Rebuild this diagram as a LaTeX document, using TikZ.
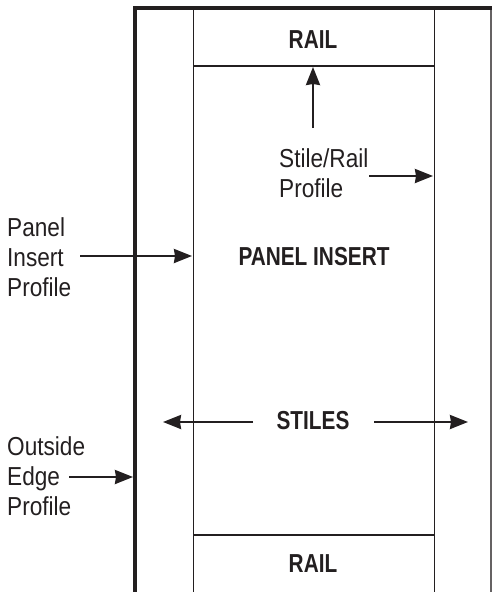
\documentclass[tikz,border=0pt]{standalone}
\usepackage{fontspec}
\setmainfont{Liberation Sans}
\newfontfamily\lblfont[FakeStretch=0.87]{Liberation Sans}
\newfontfamily\boldlbl[FakeStretch=0.8]{Liberation Sans Bold}
\usetikzlibrary{arrows.meta}
\definecolor{ink}{HTML}{231F20}
\begin{document}
\begin{tikzpicture}[x=1pt,y=-1pt,
  frame/.style={draw=ink,line width=3.2pt},
  thin/.style={draw=ink,line width=1.5pt},
  arr/.style={draw=ink,line width=2.4pt,-{Stealth[length=18pt,width=14pt,inset=1pt]}},
  lbl/.style={font=\fontsize{26}{30}\lblfont,text=ink,align=left,inner sep=0pt},
  blbl/.style={font=\fontsize{26}{30}\boldlbl,text=ink,inner sep=0pt}]
\useasboundingbox (0,0) rectangle (492,592);
% outer frame
\coordinate (otl) at (135,8);
\coordinate (otr) at (492,8);
\coordinate (obl) at (135,592);
\draw[frame] (obl) -- (otl) -- (otr);
\coordinate (rtop) at (491,9.5);
\coordinate (rbot) at (491,592);
\draw[thin,draw=ink!70] (rtop) -- (rbot);
% inner stiles / rails
\coordinate (itl) at (193.5,9.5);
\coordinate (ibl) at (193.5,592);
\coordinate (itr) at (434.5,9.5);
\coordinate (ibr) at (434.5,592);
\draw[thin] (itl) -- (ibl);
\draw[thin] (itr) -- (ibr);
\coordinate (r1l) at (193.5,66);
\coordinate (r1r) at (434.5,66);
\coordinate (r2l) at (193.5,535);
\coordinate (r2r) at (434.5,535);
\draw[thin] (r1l) -- (r1r);
\draw[thin] (r2l) -- (r2r);
% labels
\node[blbl] (rail1) at (313,40) {RAIL};
\node[blbl] (rail2) at (313,564) {RAIL};
\node[blbl] (panel) at (314,257) {PANEL INSERT};
\node[blbl] (stiles) at (313,421) {STILES};
\node[lbl,anchor=west] (srp) at (279,173) {Stile/Rail\\Profile};
\node[lbl,anchor=west] (pip) at (7,257) {Panel\\Insert\\Profile};
\node[lbl,anchor=west] (oep) at (7,476) {Outside\\Edge\\Profile};
% arrows
\coordinate (va0) at (313,128);
\coordinate (va1) at (313,67);
\draw[arr] (va0) -- (va1);
\coordinate (sr0) at (369,176);
\coordinate (sr1) at (433,176);
\draw[arr] (sr0) -- (sr1);
\coordinate (pi0) at (80,256);
\coordinate (pi1) at (192,256);
\draw[arr] (pi0) -- (pi1);
\coordinate (oe0) at (69,477);
\coordinate (oe1) at (133,477);
\draw[arr] (oe0) -- (oe1);
\coordinate (sl0) at (253,422);
\coordinate (sl1) at (163,422);
\draw[arr] (sl0) -- (sl1);
\coordinate (sr2) at (374,422);
\coordinate (sr3) at (468,422);
\draw[arr] (sr2) -- (sr3);
\end{tikzpicture}
\end{document}
